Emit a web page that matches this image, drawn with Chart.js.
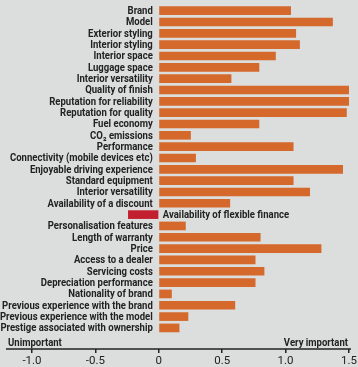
<!DOCTYPE html>
<html>
<head>
<meta charset="utf-8">
<script src="https://cdn.jsdelivr.net/npm/chart.js@4/dist/chart.umd.min.js"></script>
<style>
  html, body { margin: 0; padding: 0; background: #dcdddd; }
  canvas { display: block; }
</style>
</head>
<body>
<canvas id="myChart" width="358" height="367"></canvas>
<script>
const categories = [
  "Brand", "Model", "Exterior styling", "Interior styling", "Interior space",
  "Luggage space", "Interior versatility", "Quality of finish",
  "Reputation for reliability", "Reputation for quality", "Fuel economy",
  "CO\u2082 emissions", "Performance", "Connectivity (mobile devices etc)",
  "Enjoyable driving experience", "Standard equipment", "Interior versatility",
  "Availability of a discount", "Availability of flexible finance",
  "Personalisation features", "Length of warranty", "Price",
  "Access to a dealer", "Servicing costs", "Depreciation performance",
  "Nationality of brand", "Previous experience with the brand",
  "Previous experience with the model", "Prestige associated with ownership"
];
const values = [
  1.04, 1.37, 1.08, 1.11, 0.92,
  0.79, 0.57, 1.50,
  1.53, 1.48, 0.79,
  0.25, 1.06, 0.29,
  1.45, 1.06, 1.19,
  0.56, -0.24,
  0.21, 0.80, 1.28,
  0.76, 0.83, 0.76,
  0.10, 0.60,
  0.23, 0.16
];
const tickValues = [-1.0, -0.5, 0, 0.5, 1.0, 1.5];
const tickLabels = ["-1.0", "-0.5", "0", "0.5", "1.0", "1.5"];
const endLabels = ["Unimportant", "Very important"];

const labelFont = '700 11.5px Roboto, "DejaVu Sans", sans-serif';
const textColor = '#222222';
const squeeze = 0.83;   // narrow the text like the condensed original

function narrowText(ctx, text, x, y, align) {
  ctx.save();
  ctx.translate(x, y);
  ctx.scale(squeeze, 1);
  ctx.textAlign = align;
  ctx.fillText(text, 0, 0);
  ctx.restore();
}

const labelsPlugin = {
  id: 'rowLabels',
  afterDatasetsDraw(chart) {
    const ctx = chart.ctx;
    const xs = chart.scales.x, ys = chart.scales.y;
    const x0 = xs.getPixelForValue(0);
    ctx.save();
    ctx.font = labelFont;
    ctx.fillStyle = textColor;
    ctx.textBaseline = 'middle';
    categories.forEach((c, i) => {
      const y = ys.getPixelForValue(i);
      if (values[i] >= 0) narrowText(ctx, c, x0 - 6, y + 0.5, 'right');
      else narrowText(ctx, c, x0 + 4, y + 0.5, 'left');
    });
    // axis line
    const yb = chart.chartArea.bottom;
    ctx.strokeStyle = '#222222';
    ctx.lineWidth = 1.5;
    ctx.beginPath();
    ctx.moveTo(6, yb);
    ctx.lineTo(351, yb);
    ctx.stroke();
    // end labels
    ctx.textBaseline = 'alphabetic';
    narrowText(ctx, endLabels[0], 8, yb - 3, 'left');
    narrowText(ctx, endLabels[1], 348, yb - 3, 'right');
    ctx.restore();
  }
};

new Chart(document.getElementById('myChart'), {
  type: 'bar',
  data: {
    datasets: [{
      data: values.map((v, i) => ({ x: v, y: i })),
      backgroundColor: values.map(v => v < 0 ? '#c21f2f' : '#d4692b'),
      barThickness: 8,
      borderWidth: 0
    }]
  },
  options: {
    indexAxis: 'y',
    responsive: false,
    animation: false,
    layout: { padding: { top: 5, left: 32, right: 9, bottom: 0 } },
    plugins: { legend: { display: false }, tooltip: { enabled: false } },
    scales: {
      y: {
        type: 'linear',
        display: false,
        offset: false,
        reverse: true,
        min: -0.5,
        max: 29.86
      },
      x: {
        type: 'linear',
        min: -1,
        max: 1.5,
        afterFit: s => { s.height = 18; },
        afterBuildTicks: s => { s.ticks = tickValues.map(v => ({ value: v })); },
        border: { display: false },
        grid: { drawOnChartArea: false, drawTicks: true, tickLength: 4, color: '#222222', lineWidth: 1.5 },
        ticks: {
          padding: 1,
          color: textColor,
          font: { family: 'Roboto, sans-serif', size: 11.5 },
          maxRotation: 0,
          callback: (v, i) => tickLabels[i]
        }
      }
    }
  },
  plugins: [labelsPlugin]
});
</script>
</body>
</html>
